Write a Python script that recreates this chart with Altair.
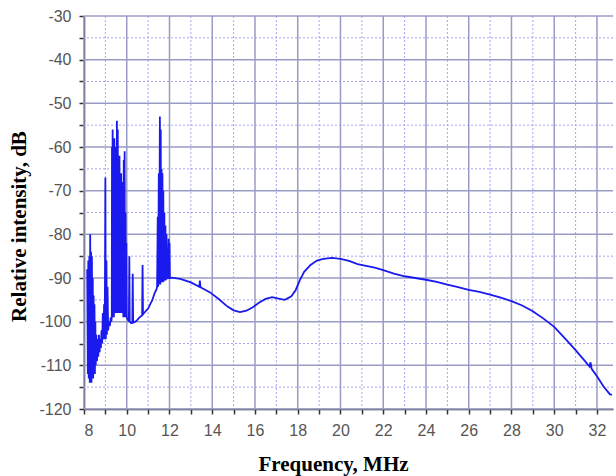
import altair as alt
import pandas as pd

# Spectrum trace (MHz, dB)
freq = [
    8.15, 8.18, 8.20, 8.22, 8.25, 8.27, 8.29, 8.31, 8.33, 8.35, 8.37, 8.39, 8.41, 8.43,
    8.45, 8.47, 8.49, 8.51, 8.53, 8.55, 8.58, 8.61, 8.64, 8.67, 8.70, 8.73, 8.76, 8.79,
    8.82, 8.85, 8.88, 8.91, 8.94, 8.97, 9.00, 9.02, 9.05, 9.07, 9.10, 9.13, 9.17, 9.21,
    9.25, 9.28,
    9.30, 9.31, 9.32, 9.34, 9.36, 9.38, 9.40, 9.42, 9.44, 9.46, 9.48, 9.50, 9.52, 9.54,
    9.56, 9.58, 9.60, 9.62, 9.64, 9.66, 9.68, 9.70, 9.72, 9.74, 9.76, 9.78, 9.80, 9.82,
    9.84, 9.86, 9.88, 9.90, 9.92, 9.94, 9.96, 9.98, 10.00,
    10.05, 10.10, 10.12, 10.14, 10.20, 10.26, 10.28, 10.30, 10.40, 10.50, 10.60, 10.72,
    10.74, 10.76, 10.90, 11.00, 11.10, 11.20, 11.30, 11.40,
    11.42, 11.45, 11.47, 11.50, 11.52, 11.55, 11.57, 11.59, 11.61, 11.63, 11.65, 11.67,
    11.69, 11.71, 11.73, 11.76, 11.78, 11.81, 11.83, 11.86, 11.88, 11.91, 11.93, 11.96,
    11.98, 12.00, 12.02,
    12.10, 12.50, 13.00, 13.40, 13.42, 13.45, 13.90, 14.30, 14.70, 15.00, 15.30, 15.60,
    15.90, 16.20, 16.50, 16.80, 17.10, 17.40, 17.70, 17.90, 18.10, 18.30, 18.60, 18.90,
    19.20, 19.60, 20.00, 20.40, 20.80, 21.20, 21.60, 22.00, 22.50, 23.00, 23.50, 24.00,
    24.50, 25.00, 25.50, 26.00, 26.50, 27.00, 27.50, 28.00, 28.50, 29.00, 29.50, 30.00,
    30.50, 31.00, 31.40, 31.65, 31.70, 31.75, 32.00, 32.30, 32.60, 32.70,
]
db = [
    -88, -112, -86, -113, -85, -114, -80, -113, -84, -114, -85, -112, -90, -113,
    -94, -111, -96, -112, -100, -110, -103, -109, -104, -108, -103, -107, -104, -106,
    -102, -105, -98, -104, -96, -104, -67, -104, -86, -103, -92, -102, -100, -101,
    -99, -100,
    -99, -60, -99, -56, -98, -62, -99, -58, -98, -66, -98, -60, -97, -54,
    -98, -56, -97, -64, -98, -62, -97, -70, -98, -66, -98, -72, -98, -68,
    -99, -63, -99, -61, -99, -75, -99, -82, -99,
    -99.5, -100, -85, -100, -100.3, -100.2, -89, -100.2, -100, -99.6, -99, -98.5,
    -87, -98.3, -97.5, -97, -96, -95, -93.5, -92.5,
    -92, -76, -92, -66, -91.5, -53, -91.5, -56, -91, -65, -91, -66,
    -91, -70, -90.8, -75, -90.6, -78, -90.5, -80, -90.3, -84, -90.2, -81,
    -90.1, -82, -90,
    -89.9, -90.2, -91.0, -92.0, -90.6, -92.1, -93.3, -94.8, -96.5, -97.4, -97.8, -97.5,
    -96.7, -95.6, -94.8, -94.4, -94.7, -95.0, -94.2, -92.8, -90.5, -88.6, -87.0, -86.0,
    -85.6, -85.4, -85.6, -86.1, -86.8, -87.2, -87.6, -88.2, -89.0, -89.6, -90.0, -90.4,
    -90.9, -91.5, -92.1, -92.7, -93.2, -93.8, -94.5, -95.3, -96.3, -97.6, -99.3, -101.2,
    -103.8, -106.5, -108.8, -110.3, -109.3, -110.8, -112.5, -114.8, -116.6, -116.8,
]

x_ticks = [8, 9, 10, 11, 12, 13, 14, 15, 16, 17, 18, 19, 20, 21, 22, 23, 24, 25, 26,
           27, 28, 29, 30, 31, 32]
x_major = [8, 10, 12, 14, 16, 18, 20, 22, 24, 26, 28, 30, 32]
x_minor = [9, 11, 13, 15, 17, 19, 21, 23, 25, 27, 29, 31]
y_ticks = [-30, -35, -40, -45, -50, -55, -60, -65, -70, -75, -80, -85, -90, -95,
           -100, -105, -110, -115, -120]
y_major = [-30, -40, -50, -60, -70, -80, -90, -100, -110, -120]
y_minor = [-35, -45, -55, -65, -75, -85, -95, -105, -115]

df = pd.DataFrame({"f": freq, "db": db, "i": list(range(len(freq)))})

xs = alt.Scale(domain=[8, 32.75], nice=False, zero=False)
ys = alt.Scale(domain=[-120, -30], nice=False, zero=False)

X_AXIS = alt.Axis(
    values=x_ticks,
    labelExpr="datum.value % 2 == 0 ? '' + datum.value : ''",
    title="Frequency, MHz", grid=False, labelOverlap=False,
    domainColor="#333333", domainWidth=1.5, tickColor="#333333",
    tickWidth=1.5, tickSize=5, labelPadding=8,
    labelFont="Liberation Sans", labelFontSize=16, labelColor="#555555",
    titleFont="Liberation Serif", titleFontWeight="bold", titleFontSize=21,
    titleColor="#000000", titlePadding=15, titleX=249, titleAlign="center",
)
Y_AXIS = alt.Axis(
    values=y_ticks,
    labelExpr="datum.value % 10 == 0 ? '' + datum.value : ''",
    title="Relative intensity, dB", grid=False, labelOverlap=False,
    domainColor="#333333", domainWidth=1.5, tickColor="#333333",
    tickWidth=1.5, tickSize=5, labelPadding=8,
    labelFont="Liberation Sans", labelFontSize=16, labelColor="#555555",
    titleFont="Liberation Serif", titleFontWeight="bold", titleFontSize=21,
    titleColor="#000000", titlePadding=9, titleY=210, titleAlign="center",
)

minor_color = "#a4a4f2"
major_color = "#9a9ac6"

vminor = alt.Chart(pd.DataFrame({"v": x_minor})).mark_rule(
    color=minor_color, strokeWidth=1, strokeDash=[2, 2]
).encode(x=alt.X("v:Q", scale=xs, axis=X_AXIS))
hminor = alt.Chart(pd.DataFrame({"v": y_minor})).mark_rule(
    color=minor_color, strokeWidth=1, strokeDash=[2, 2]
).encode(y=alt.Y("v:Q", scale=ys, axis=Y_AXIS))
vmajor = alt.Chart(pd.DataFrame({"v": x_major})).mark_rule(
    color=major_color, strokeWidth=1.5
).encode(x=alt.X("v:Q", scale=xs, axis=X_AXIS))
hmajor = alt.Chart(pd.DataFrame({"v": y_major})).mark_rule(
    color=major_color, strokeWidth=1.5
).encode(y=alt.Y("v:Q", scale=ys, axis=Y_AXIS))

line = alt.Chart(df).mark_line(color="#1a1aee", strokeWidth=1.8).encode(
    x=alt.X("f:Q", scale=xs, axis=X_AXIS),
    y=alt.Y("db:Q", scale=ys, axis=Y_AXIS),
    order="i:Q",
)

chart = alt.layer(vminor, hminor, vmajor, hmajor, line).properties(
    width=529, height=393,
    autosize=alt.AutoSizeParams(type="none"),
    padding={"left": 84, "top": 16, "right": 3, "bottom": 67},
    background="white",
).configure_view(stroke=None)

chart.save("out.html", embed_options={"renderer": "svg", "actions": False})
